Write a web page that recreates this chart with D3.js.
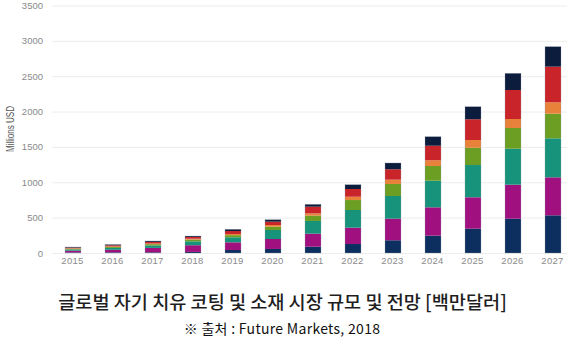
<!DOCTYPE html>
<html><head><meta charset="utf-8">
<script src="https://cdn.jsdelivr.net/npm/d3@7"></script>
<style>body{margin:0;background:#fff}svg{display:block}</style>
</head><body>
<svg id="c" width="567" height="350"></svg>
<script>
const years = ["2015","2016","2017","2018","2019","2020","2021","2022","2023","2024","2025","2026","2027"];
const seriesNames = ["s1","s2","s3","s4","s5","s6","s7"];
const s1 = [8, 10, 10, 15, 42, 57, 89, 127, 180, 245, 344, 485, 533];
const s2 = [25, 35, 62, 95, 109, 141, 184, 231, 305, 401, 444, 481, 537];
const s3 = [18, 27, 35, 55, 71, 127, 180, 250, 321, 376, 456, 509, 552];
const s4 = [10, 14, 18, 25, 30, 47, 75, 141, 170, 208, 245, 293, 348];
const s5 = [6, 8, 10, 12, 17, 24, 33, 47, 61, 81, 109, 127, 161];
const s6 = [10, 15, 22, 25, 42, 47, 94, 109, 147, 206, 293, 410, 504];
const s7 = [8, 11, 13, 13, 24, 28, 33, 61, 89, 128, 178, 236, 283];
const colors = ["#0c2f5f", "#a0117f", "#16937a", "#6b9e22", "#e8823a", "#c8242a", "#0c1c3c"];
const yTicks = [0, 500, 1000, 1500, 2000, 2500, 3000, 3500];

const table = years.map((y, i) => ({year: y, s1: s1[i], s2: s2[i], s3: s3[i], s4: s4[i], s5: s5[i], s6: s6[i], s7: s7[i]}));
const stack = d3.stack().keys(seriesNames)(table);
const totals = table.map(d => seriesNames.reduce((a, k) => a + d[k], 0));

const svg = d3.select("#c");
const x = d3.scaleBand().domain(years).range([53, 573]).paddingInner(0.6).paddingOuter(0.3);
const y = d3.scaleLinear().domain([0, 3500]).range([253, 5.5]);

// grid
svg.append("g").selectAll("line").data(yTicks).join("line")
  .attr("x1", 52).attr("x2", 567)
  .attr("y1", d => y(d) + 0.5).attr("y2", d => y(d) + 0.5)
  .attr("stroke", "#ececec").attr("stroke-width", 1);

// y labels
svg.append("g").selectAll("text").data(yTicks).join("text")
  .attr("x", 43).attr("y", d => y(d) + 3.5)
  .attr("text-anchor", "end")
  .attr("font-family", "Liberation Sans, Arial, sans-serif")
  .attr("font-size", 9.5).attr("fill", "#8a8a8a")
  .text(d => d);

// x labels
svg.append("g").selectAll("text").data(years).join("text")
  .attr("x", d => x(d) + x.bandwidth() / 2 - 0.5).attr("y", 264)
  .attr("text-anchor", "middle")
  .attr("font-family", "Liberation Sans, Arial, sans-serif")
  .attr("font-size", 9.5).attr("fill", "#8a8a8a")
  .attr("letter-spacing", 0.3)
  .text(d => d);

// bars
svg.append("g").selectAll("g").data(stack).join("g")
  .attr("fill", (d, i) => colors[i])
  .selectAll("rect").data(d => d).join("rect")
  .attr("x", d => x(d.data.year))
  .attr("width", x.bandwidth())
  .attr("y", d => y(d[1]))
  .attr("height", d => y(d[0]) - y(d[1]));

// bar outlines
svg.append("g").selectAll("rect").data(table).join("rect")
  .attr("x", d => x(d.year))
  .attr("width", x.bandwidth())
  .attr("y", (d, i) => y(totals[i]))
  .attr("height", (d, i) => y(0) - y(totals[i]))
  .attr("fill", "none").attr("stroke", "#9aa0aa").attr("stroke-opacity", 0.5).attr("stroke-width", 0.6);

// y-axis title
svg.append("text")
  .attr("transform", "translate(14,129) rotate(-90)")
  .attr("text-anchor", "middle")
  .attr("font-family", "Liberation Sans, Arial, sans-serif")
  .attr("font-size", 10.5).attr("fill", "#555")
  .attr("textLength", 46).attr("lengthAdjust", "spacingAndGlyphs")
  .text("Millions USD");

// title
svg.append("text")
  .attr("x", 282.5).attr("y", 309)
  .attr("text-anchor", "middle")
  .attr("font-family", "Noto Sans CJK KR, sans-serif")
  .attr("font-size", 18.6).attr("font-weight", 500).attr("fill", "#1e1e1e")
  .text("글로벌 자기 치유 코팅 및 소재 시장 규모 및 전망 [백만달러]");

svg.append("text")
  .attr("x", 282).attr("y", 334)
  .attr("text-anchor", "middle")
  .attr("font-family", "Noto Sans CJK KR, sans-serif")
  .attr("font-size", 14).attr("letter-spacing", 0.3).attr("fill", "#111")
  .text("※ 출처 : Future Markets, 2018");
</script>
</body></html>
